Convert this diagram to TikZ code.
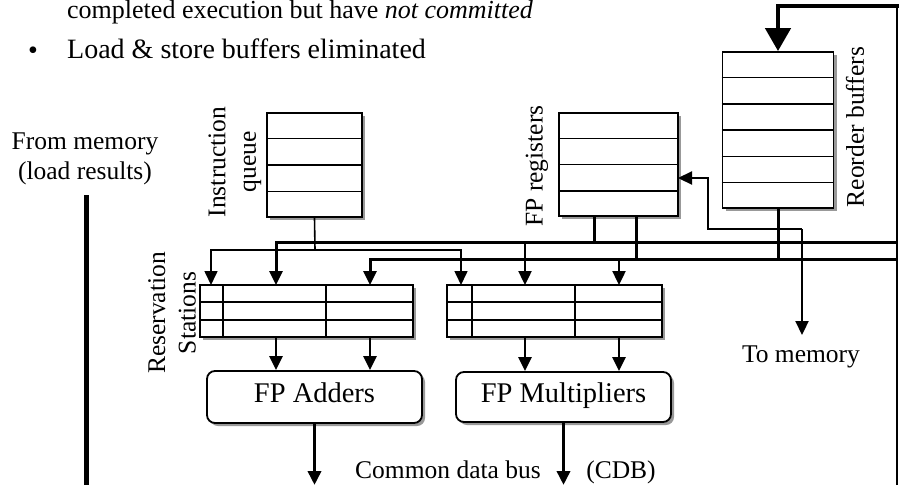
\documentclass[tikz,border=0pt]{standalone}
\usepackage{fontspec}
\setmainfont{Liberation Serif}
\usetikzlibrary{arrows.meta,shadows,calc}
\begin{document}
\begin{tikzpicture}[x=1pt,y=-1pt,
  lbl/.style={font=\fontsize{25.5pt}{30.5pt}\selectfont, inner sep=0pt, align=center},
  bigtext/.style={font=\fontsize{28pt}{33pt}\selectfont, inner sep=0pt},
  regbox/.style={draw, line width=1.8pt, fill=white, inner sep=0pt,
    drop shadow={shadow xshift=3pt, shadow yshift=-3pt, fill=gray!80, opacity=1}},
  fu/.style={regbox, rounded corners=8pt, font=\fontsize{28.5pt}{33pt}\selectfont,
    text height=17pt, text depth=6pt},
  rowline/.style={line width=1.6pt},
  arr/.style={line width=2.4pt, -{Triangle[width=13pt,length=14pt]}},
  thinarr/.style={line width=1.6pt, -{Triangle[width=13pt,length=14pt]}},
  bus/.style={line width=3pt},
]
\useasboundingbox (0,0) rectangle (899,485);

% bullet text
\node[bigtext, anchor=base west, font=\fontsize{26pt}{31pt}\selectfont] (t1) at (67,18) {completed execution but have \textit{not committed}};
\node[bigtext, anchor=base west] (t2) at (67,58) {Load \& store buffers eliminated};
\node[bigtext, anchor=base] (bul) at (33,59) {\textbullet};

% register-file style boxes
\node[regbox, minimum width=95pt, minimum height=104pt] (iq) at (314.5,165) {};
\node[regbox, minimum width=119pt, minimum height=103pt] (fpr) at (618.5,164.5) {};
\node[regbox, minimum width=111pt, minimum height=156pt] (rob) at (778,130) {};
\node[regbox, minimum width=213pt, minimum height=52pt] (rs1) at (306.5,311) {};
\node[regbox, minimum width=215pt, minimum height=52pt] (rs2) at (554.5,311) {};
\node[fu, minimum width=215pt, minimum height=52pt] (add) at (314.5,397) {FP Adders};
\node[fu, minimum width=215pt, minimum height=50pt] (mul) at (563.5,397) {FP Multipliers};

\foreach \k in {1,2,3} {
  \draw[rowline] ($(iq.north west)!\k/4!(iq.south west)$) -- ($(iq.north east)!\k/4!(iq.south east)$);
  \draw[rowline] ($(fpr.north west)!\k/4!(fpr.south west)$) -- ($(fpr.north east)!\k/4!(fpr.south east)$);
}
\foreach \k in {1,...,5}
  \draw[rowline] ($(rob.north west)!\k/6!(rob.south west)$) -- ($(rob.north east)!\k/6!(rob.south east)$);
\foreach \k in {1,2} {
  \draw[rowline] ($(rs1.north west)!\k/3!(rs1.south west)$) -- ($(rs1.north east)!\k/3!(rs1.south east)$);
  \draw[rowline] ($(rs2.north west)!\k/3!(rs2.south west)$) -- ($(rs2.north east)!\k/3!(rs2.south east)$);
}
\foreach \c in {24,127}
  \draw[rowline] ($(rs1.north west)+(\c,0)$) -- ($(rs1.south west)+(\c,0)$);
\foreach \c in {26,129}
  \draw[rowline] ($(rs2.north west)+(\c,0)$) -- ($(rs2.south west)+(\c,0)$);

% labels
\node[lbl, rotate=90] (iqlbl) at (235,162) {Instruction\\queue};
\node[lbl, rotate=90] (fprlbl) at (537,166) {FP registers};
\node[lbl, rotate=90] (roblbl) at (855,127) {Reorder buffers};
\node[lbl, rotate=90] (rslbl) at (172,313) {Reservation\\Stations};
\node[lbl] (frommem) at (85,159) {From memory\\(load results)};
\node[lbl] (tomem) at (801,357) {To memory};
\node[lbl, anchor=base] (cdb) at (448,478) {Common data bus};
\node[lbl, anchor=base] (cdbabbr) at (621,478) {(CDB)};

% named points
\coordinate (bot) at (0,485);
\coordinate (iqj) at (315,250);
\coordinate (rs1a) at (211,285);
\coordinate (rs1b) at (276,285);
\coordinate (rs1c) at (370,285);
\coordinate (rs2a) at (461,285);
\coordinate (rs2b) at (525,285);
\coordinate (rs2c) at (619,285);
\coordinate (busA) at (897,242);
\coordinate (busB) at (897,259);
\coordinate (fpo1) at (594,242);
\coordinate (fpo2) at (636,259);
\coordinate (cdbtop) at (897,6);
\coordinate (cdbin) at (899,6);
\coordinate (cdbbot) at (897,485);
\coordinate (cj) at (802,229);
\coordinate (memtip) at (802,335);
\coordinate (fprin) at (678,178);
\coordinate (fm1) at (86,195);
\coordinate (fm2) at (86,485);

% instruction issue
\draw[rowline] (iq.south) -- (iqj);
\draw[thinarr] (iqj) -| (rs1a);
\draw[thinarr] (iqj) -| (rs2a);

% operand buses
\draw[arr, line width=3pt] (busA) -| (rs1b);
\draw[arr, line width=3pt] (busB) -| (rs1c);
\draw[arr] (rs2b |- busA) -- (rs2b);
\draw[arr] (rs2c |- busB) -- (rs2c);
\draw[bus] (fpo1 |- fpr.south) -- (fpo1);
\draw[bus] (fpo2 |- fpr.south) -- (fpo2);
\draw[bus] (rob.south) -- (rob.south |- busB);

% commit path
\draw[arr, line width=2.2pt] (cj) -- (memtip);
\draw[arr, line width=2.2pt] (cj) -| ($(fprin)+(30,0)$) -- (fprin);

% reservation stations to units
\draw[arr] (rs1b |- rs1.south) -- (rs1b |- add.north);
\draw[arr] (rs1c |- rs1.south) -- (rs1c |- add.north);
\draw[arr] (rs2b |- rs2.south) -- (rs2b |- mul.north);
\draw[arr] (rs2c |- rs2.south) -- (rs2c |- mul.north);

% results onto the common data bus
\draw[arr, line width=3.5pt] (add.south) -- (add.south |- bot);
\draw[arr, line width=3.5pt] (mul.south) -- (mul.south |- bot);
\draw[line width=1.6pt] (cdbbot) -- (cdbtop);
\draw[line width=4.5pt, -{Triangle[width=25pt,length=23pt]}] (cdbin) -| (rob.north);

% load results
\draw[line width=5pt] (fm1) -- (fm2);
\end{tikzpicture}
\end{document}
